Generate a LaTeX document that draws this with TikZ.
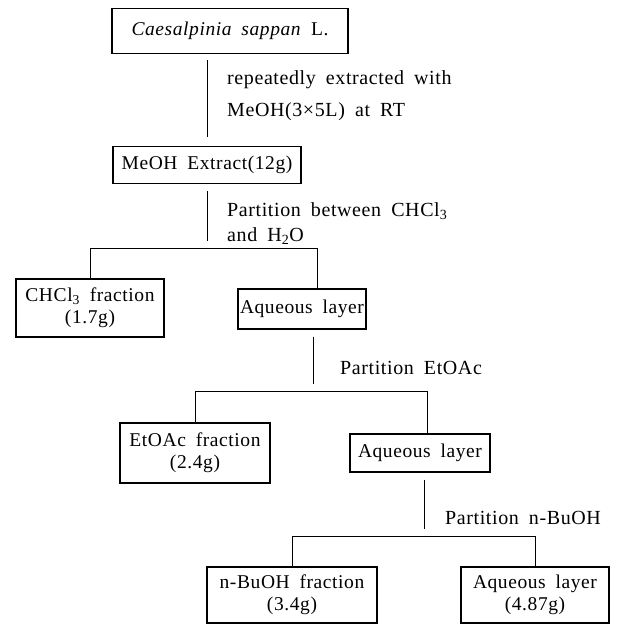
\documentclass[tikz,border=0pt]{standalone}
\usepackage{fontspec}
\setmainfont{Liberation Serif}[LetterSpace=3,WordSpace=1.8]
\usepackage{tikz}

\begin{document}
\begin{tikzpicture}[
    x=1pt, y=-1pt,
    box/.style={
      draw=black,
      line width=1.4pt,
      fill=white,
      inner sep=2pt,
      align=center,
      font=\fontsize{19.5}{22}\selectfont
    },
    note/.style={
      anchor=west,
      inner sep=0pt,
      align=left,
      font=\fontsize{20}{25}\selectfont
    },
    link/.style={line width=0.9pt, draw=black}
  ]
    \useasboundingbox (0,0) rectangle (618,626);

    \node[box, minimum width=236pt, minimum height=45pt] (plant) at (230,31) {\textit{Caesalpinia sappan} L.};
    \node[box, minimum width=188pt, minimum height=37pt] (extract) at (207,165) {MeOH Extract(12g)};

    \node[box, minimum width=148pt, minimum height=58pt] (chcl) at (90,308) {CHCl\textsubscript{3} fraction\\(1.7g)};
    \node[box, minimum width=124pt, minimum height=40pt] (aqone) at (302,309) {Aqueous layer};

    \node[box, minimum width=150pt, minimum height=60pt] (etoac) at (195,453) {EtOAc fraction\\(2.4g)};
    \node[box, minimum width=140pt, minimum height=38pt] (aqtwo) at (420,453) {Aqueous layer};

    \node[box, minimum width=170pt, minimum height=56pt] (buoh) at (292,595) {n-BuOH fraction\\(3.4g)};
    \node[box, minimum width=148pt, minimum height=56pt] (aqthree) at (535,595) {Aqueous layer\\(4.87g)};

    \node[note] (extlab) at (227,96) {repeatedly extracted with\\[7pt]MeOH(3×5L) at RT};
    \node[note] (partlab) at (227,224) {Partition between CHCl\textsubscript{3}\\and H\textsubscript{2}O};
    \node[note] (etlab) at (340,368) {Partition EtOAc};
    \node[note] (bulab) at (445,518) {Partition n-BuOH};

    \draw[link, shorten <=6pt, shorten >=9pt] (plant.south -| extract.north) -- (extract.north);

    \draw[link] (chcl.north) -- ++(0,-30) coordinate (forkone) -| ([xshift=15pt]aqone.north);
    \draw[link, shorten <=7pt, shorten >=7pt] (extract.south) -- (extract.south |- forkone);

    \draw[link] (etoac.north) -- ++(0,-31) coordinate (forktwo) -| ([xshift=7pt]aqtwo.north);
    \draw[link, shorten <=7pt, shorten >=7pt] ([xshift=11pt]aqone.south) -- ([xshift=11pt]aqone.south |- forktwo);

    \draw[link] (buoh.north) -- ++(0,-30) coordinate (forkthree) -| (aqthree.north);
    \draw[link, shorten <=7pt, shorten >=7pt] ([xshift=4pt]aqtwo.south) -- ([xshift=4pt]aqtwo.south |- forkthree);
  \end{tikzpicture}
\end{document}
